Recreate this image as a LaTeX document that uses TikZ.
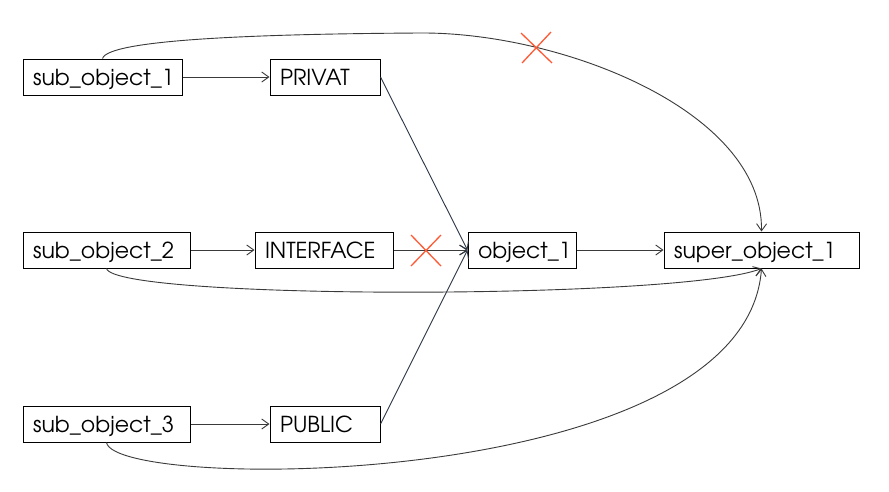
\documentclass[tikz,border=0pt]{standalone}
\usepackage{fontspec}
\setmainfont{texgyreadventor-regular.otf}
\usetikzlibrary{arrows.meta}
\definecolor{conn}{HTML}{3A3A3A}
\definecolor{diag}{HTML}{2B3645}
\definecolor{crossred}{HTML}{FF5A36}
\tikzset{
  box/.style={draw=black, line width=1pt, minimum height=36pt, inner xsep=10pt, inner ysep=0pt,
    text width=#1pt, minimum width=#1pt+20pt, align=left, text height=18pt, text depth=2pt,
    font=\fontsize{22}{24}\selectfont},
  link/.style={draw=conn, line width=0.9pt, -{Straight Barb[length=7pt,width=10pt]}},
  dlink/.style={link, draw=diag},
  crossmark/.style={draw=crossred, line width=1.3pt}
}
\begin{document}
\begin{tikzpicture}[x=1pt,y=-1pt]
\useasboundingbox[fill=white] (0,0) rectangle (889,491);
\node[box=139] (s1) at (102.5,77) {sub\_object\_1};
\node[box=90] (pv) at (325,77) {PRIVAT};
\node[box=147] (s2) at (106.5,250) {sub\_object\_2};
\node[box=118] (ifc) at (324,250) {INTERFACE};
\node[box=88] (ob) at (522,250) {object\_1};
\node[box=175] (sup) at (761.5,250) {super\_object\_1};
\node[box=147] (s3) at (106.5,424) {sub\_object\_3};
\node[box=90] (pb) at (325,424) {PUBLIC};

\draw[link] (s1) -- (pv);
\draw[link] (s2) -- (ifc);
\draw[link] (s3) -- (pb);
\draw[link] (ifc) -- (ob);
\draw[link] (ob) -- (sup);
\draw[dlink] (pv.east) -- (ob.west);
\draw[dlink] (pb.east) -- (ob.west);

\draw[link] (s1.north) .. controls (108,40) and (250,34) .. (420,33)
  .. controls (560,32) and (763,110) .. (sup.north);
\draw[link] (s2.south) .. controls (115,300) and (680,300) .. (sup.south);
\draw[link] (s3.south) .. controls (115,492) and (745,492) .. (sup.south);

\draw[crossmark] (521,33) -- (552,63) (551,32) -- (522,63);
\draw[crossmark] (411,235) -- (441,266) (441,235) -- (411,266);
\end{tikzpicture}
\end{document}
